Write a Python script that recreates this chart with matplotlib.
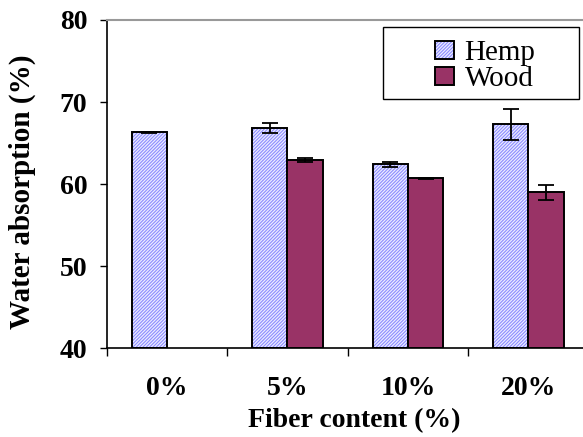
import matplotlib
matplotlib.use("Agg")
import matplotlib.pyplot as plt
import numpy as np
from matplotlib.patches import Rectangle

categories = ["0%", "5%", "10%", "20%"]
hemp = [66.3, 66.8, 62.4, 67.3]
hemp_err = [0.1, 0.6, 0.25, 1.9]
wood = [np.nan, 62.9, 60.7, 59.0]
wood_err = [np.nan, 0.25, 0.05, 0.9]

plt.rcParams["font.family"] = ["Liberation Serif", "DejaVu Serif"]
plt.rcParams["hatch.linewidth"] = 0.8

W, H = 583, 437
fig = plt.figure(figsize=(W / 100, H / 100), dpi=100)
ax = fig.add_axes([106.7 / W, 1 - 348.3 / H, 482 / W, 328.3 / H])

x = np.arange(len(categories))
bw = 0.294
hemp_face = "#ececff"
hemp_hatch = "#8c8cff"
wood_face = "#993366"
hatch = "//////////"

# hatched fill, then black outline on top
ax.bar(x - bw / 2, np.array(hemp) - 40, bw, bottom=40, facecolor=hemp_face,
       edgecolor=hemp_hatch, hatch=hatch, linewidth=0, zorder=2)
ax.bar(x - bw / 2, np.array(hemp) - 40, bw, bottom=40, fill=False,
       edgecolor="black", linewidth=1.4, zorder=3)
ax.bar(x + bw / 2, np.array(wood) - 40, bw, bottom=40, facecolor=wood_face,
       edgecolor="black", linewidth=1.4, zorder=3)

ax.errorbar(x - bw / 2, hemp, yerr=hemp_err, fmt="none", ecolor="black",
            elinewidth=1.3, capsize=5.5, capthick=1.3, zorder=4)
ax.errorbar(x + bw / 2, wood, yerr=wood_err, fmt="none", ecolor="black",
            elinewidth=1.3, capsize=5.5, capthick=1.3, zorder=4)

ax.set_xlim(-0.5, 3.5)
ax.set_ylim(40, 80)
ax.set_yticks([40, 50, 60, 70, 80])
ax.tick_params(axis="y", direction="out", length=5, width=1, labelsize=20, pad=9)
for lbl in ax.get_yticklabels():
    lbl.set_fontweight("bold")

ax.set_xticks(x)
ax.set_xticklabels(categories, fontsize=20, fontweight="bold")
ax.tick_params(axis="x", which="major", length=0, pad=20)
ax.set_xticks([-0.5, 0.5, 1.5, 2.5], minor=True)
ax.tick_params(axis="x", which="minor", direction="out", length=5.5, width=1)

for side in ["left", "bottom"]:
    ax.spines[side].set_color("black")
    ax.spines[side].set_linewidth(1.2)
ax.spines["top"].set_color("#999999")
ax.spines["top"].set_linewidth(1.5)
ax.spines["right"].set_visible(False)

fig.text(22 / W, 1 - 192 / H, "Water absorption (%)", rotation=90, fontsize=21,
         fontweight="bold", ha="center", va="center")
fig.text(354 / W, 1 - 421 / H, "Fiber content (%)", fontsize=20,
         fontweight="bold", ha="center", va="center")

# legend frame
fig.patches.append(Rectangle((383 / W, 1 - 98.7 / H), 196 / W, 72 / H,
                             transform=fig.transFigure, fill=False,
                             edgecolor="black", linewidth=1.0))
h_fill = Rectangle((0, 0), 1, 1, facecolor=hemp_face, edgecolor=hemp_hatch,
                   hatch=hatch, linewidth=0)
h_edge = Rectangle((0, 0), 1, 1, fill=False, edgecolor="black", linewidth=1.4)
w_patch = Rectangle((0, 0), 1, 1, facecolor=wood_face, edgecolor="black",
                    linewidth=1.4)
fig.legend([(h_fill, h_edge), w_patch], ["Hemp", "Wood"],
           loc="upper left", bbox_to_anchor=(415 / W, 1 - 20 / H),
           frameon=False, fontsize=21, handlelength=0.65, handleheight=0.6,
           handletextpad=0.35, labelspacing=0.0, borderpad=0.2)

fig.savefig("out.png", dpi=100)
